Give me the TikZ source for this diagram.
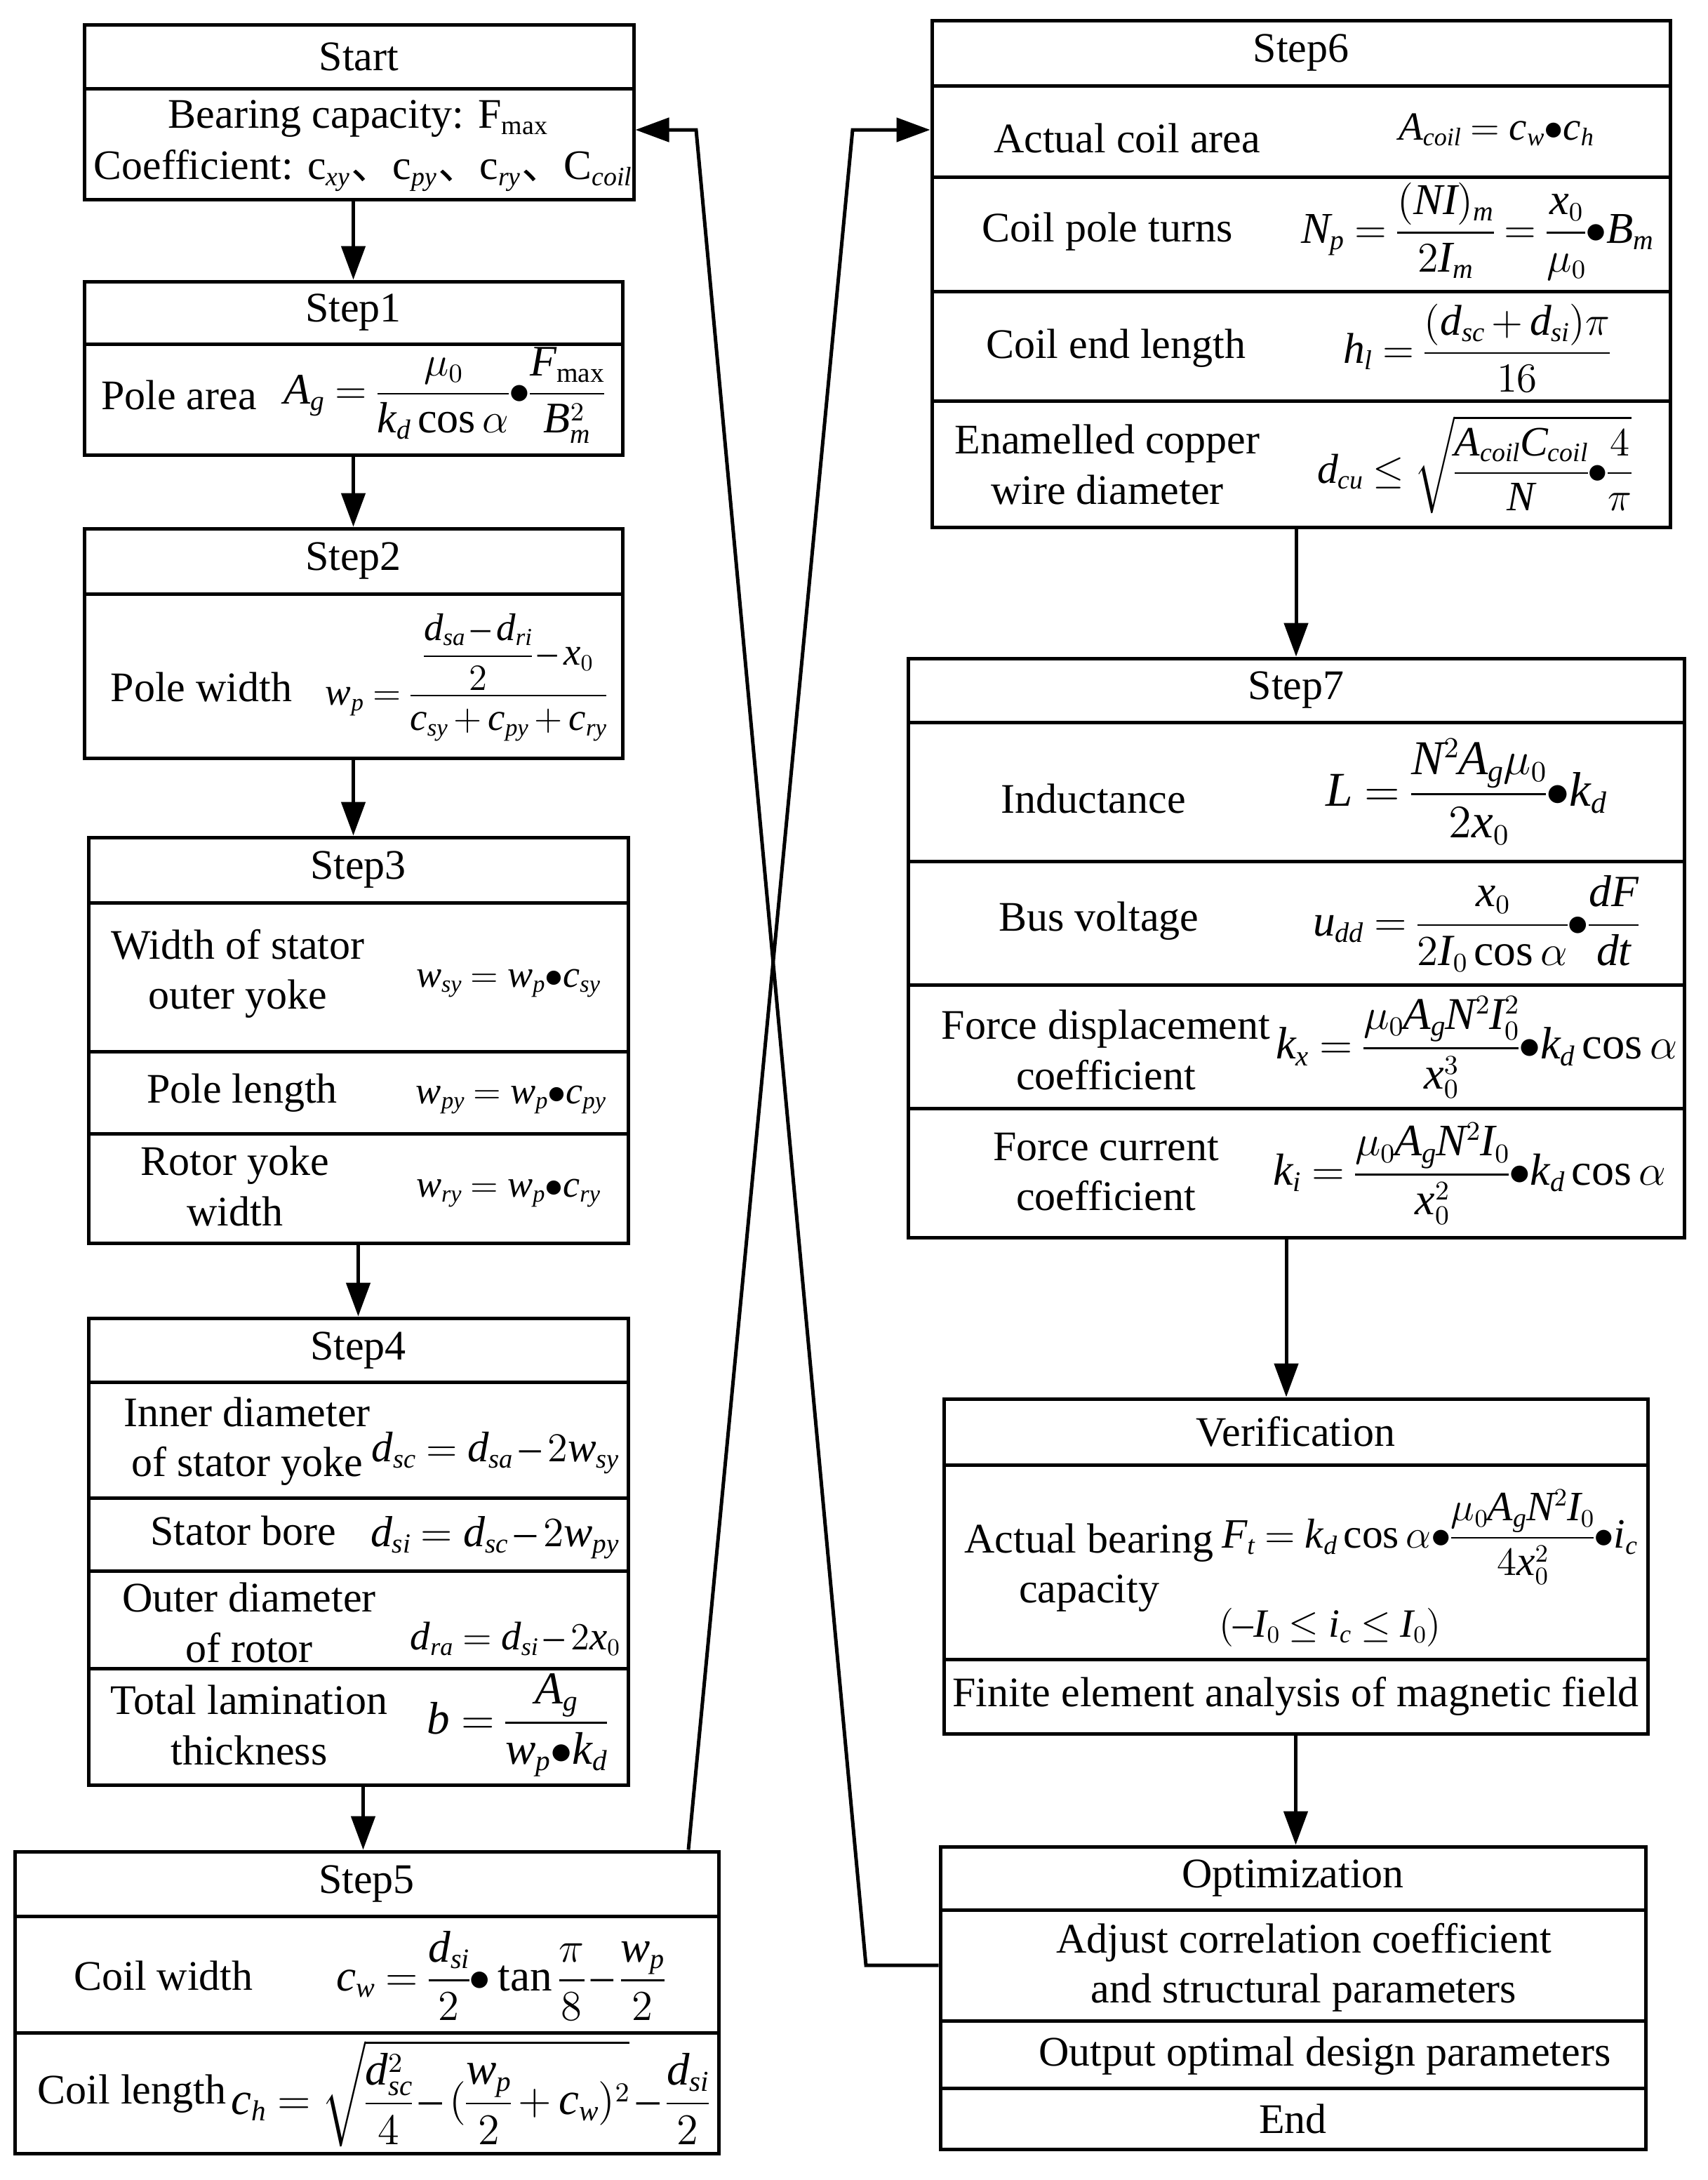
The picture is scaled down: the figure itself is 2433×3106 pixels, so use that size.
\documentclass[tikz,border=0pt]{standalone}
\usepackage{amsmath}
\usepackage{graphicx}
\usepackage{fontspec}
\setmainfont{Liberation Serif}
\usepackage[italic]{mathastext}
\newfontfamily\cjk{Noto Sans CJK SC}
\usetikzlibrary{arrows.meta,calc}
\DeclareMathSizes{15}{15}{9.5}{7.5}
\newcommand\fs{\fontsize{15pt}{17.8pt}\selectfont}
\newcommand\msp{\medmuskip=3mu\relax\thickmuskip=4.5mu\relax\scriptspace=0pt\relax\nulldelimiterspace=0pt\relax}
\newcommand\fw[2]{\resizebox{#1pt}{!}{$\msp\displaystyle #2$}}
\newcommand\cell[6]{\node[cellbox, minimum width={(#4-#2)*0.25pt}, minimum height={(#5-#3)*0.25pt}] (#1) at ({(#2+#4)/2},{(#3+#5)/2}) {#6};}
\tikzset{
  cellbox/.style={draw, line width=1.25pt, inner sep=0pt, font=\fs},
  txt/.style={inner sep=0pt, align=center, font=\fs},
  mth/.style={inner sep=0pt, align=center, font=\fs},
  arr/.style={line width=1.25pt, -{Triangle[length=12pt,width=8.5pt]}}
}
\begin{document}
\begin{tikzpicture}[x=0.25pt,y=-0.25pt]
\useasboundingbox (0,0) rectangle (2433,3106);
% Start
\cell{sth}{120}{35}{903}{126}{Start}
\cell{stb}{120}{126}{903}{284}{}
\node[txt] (st1) at (511,169) {Bearing capacity: F$_{\mathrm{max}}$};
\node[txt] (st2) at (518,243) {\resizebox{192pt}{!}{Coefficient: c$_{xy}${\cjk 、}c$_{py}${\cjk 、}c$_{ry}${\cjk 、}C$_{coil}$}};
% Step1
\cell{s1h}{120}{401}{887}{490}{Step1}
\cell{s1b}{120}{490}{887}{648}{}
\node[txt] (s1l) at (255,563) {Pole area};
\node[mth] (s1f) at (633,563) {\fw{114}{A_g=\frac{\mu_0}{k_d\cos\alpha}{\bullet}\frac{F_{\mathrm{max}}}{B_m^2}}};
% Step2
\cell{s2h}{120}{753}{887}{846}{Step2}
\cell{s2b}{120}{846}{887}{1080}{}
\node[txt] (s2l) at (287,979) {Pole width};
\node[mth] (s2f) at (664,965) {\fw{100}{w_p=\frac{\dfrac{d_{sa}-d_{ri}}{2}-x_0}{c_{sy}+c_{py}+c_{ry}}}};
% Step3
\cell{s3h}{126}{1193}{895}{1286}{Step3}
\cell{s3a}{126}{1286}{895}{1498}{}
\cell{s3b}{126}{1498}{895}{1615}{}
\cell{s3c}{126}{1615}{895}{1771}{}
\node[txt] (s3al) at (339,1387) {Width of stator\\outer yoke};
\node[mth] (s3af) at (724,1401) {\fw{65.5}{w_{sy}=w_p{\bullet}c_{sy}}};
\node[txt] (s3bl) at (345,1557) {Pole length};
\node[mth] (s3bf) at (728,1567) {\fw{67.5}{w_{py}=w_p{\bullet}c_{py}}};
\node[txt] (s3cl) at (335,1690) {Rotor yoke\\width};
\node[mth] (s3cf) at (724,1700) {\fw{65.5}{w_{ry}=w_p{\bullet}c_{ry}}};
% Step4
\cell{s4h}{126}{1878}{895}{1969}{Step4}
\cell{s4a}{126}{1969}{895}{2134}{}
\cell{s4b}{126}{2134}{895}{2238}{}
\cell{s4c}{126}{2238}{895}{2377}{}
\cell{s4d}{126}{2377}{895}{2543}{}
\node[txt] (s4al) at (352,2054) {Inner diameter\\of stator yoke};
\node[mth] (s4af) at (706,2070) {\fw{88}{d_{sc}=d_{sa}-2w_{sy}}};
\node[txt] (s4bl) at (347,2181) {Stator bore};
\node[mth] (s4bf) at (705,2191) {\fw{88.5}{d_{si}=d_{sc}-2w_{py}}};
\node[txt] (s4cl) at (355,2312) {Outer diameter\\of rotor};
\node[mth] (s4cf) at (734,2335) {\fw{74.5}{d_{ra}=d_{si}-2x_0}};
\node[txt] (s4dl) at (355,2458) {Total lamination\\thickness};
\node[mth] (s4df) at (737,2458) {\fw{64}{b=\frac{A_g}{w_p{\bullet}k_d}}};
% Step5
\cell{s5h}{21}{2638}{1024}{2730}{Step5}
\cell{s5a}{21}{2730}{1024}{2896}{}
\cell{s5b}{21}{2896}{1024}{3068}{}
\node[txt] (s5al) at (233,2815) {Coil width};
\node[mth] (s5af) at (713,2815) {\fw{117}{c_w=\frac{d_{si}}{2}{\bullet}\tan\frac{\pi}{8}-\frac{w_p}{2}}};
\node[txt] (s5bl) at (188,2983) {Coil length};
\node[mth] (s5bf) at (670,2983) {\fw{170}{c_h=\sqrt{\frac{d_{sc}^2}{4}-(\frac{w_p}{2}+c_w)^2}-\frac{d_{si}}{2}}};
% Step6
\cell{s6h}{1328}{29}{2380}{122}{Step6}
\cell{s6a}{1328}{122}{2380}{252}{}
\cell{s6b}{1328}{252}{2380}{415}{}
\cell{s6c}{1328}{415}{2380}{571}{}
\cell{s6d}{1328}{571}{2380}{751}{}
\node[txt] (s6al) at (1606,197) {Actual coil area};
\node[mth] (s6af) at (2132,185) {\fw{69.5}{A_{coil}=c_w{\bullet}c_h}};
\node[txt] (s6bl) at (1578,330) {Coil pole turns};
\node[mth] (s6bf) at (2105,330) {\fw{125.5}{N_p=\frac{(NI)_m}{2I_m}=\frac{x_0}{\mu_0}{\bullet}B_m}};
\node[txt] (s6cl) at (1590,496) {Coil end length};
\node[mth] (s6cf) at (2104,496) {\fw{95}{h_l=\frac{(d_{sc}+d_{si})\pi}{16}}};
\node[txt] (s6dl) at (1578,662) {Enamelled copper\\wire diameter};
\node[mth] (s6df) at (2101,662) {\fw{112}{d_{cu}\le\sqrt{\frac{A_{coil}C_{coil}}{N}{\bullet}\frac{4}{\pi}}}};
% Step7
\cell{s7h}{1294}{938}{2400}{1029}{Step7}
\cell{s7a}{1294}{1029}{2400}{1227}{}
\cell{s7b}{1294}{1227}{2400}{1403}{}
\cell{s7c}{1294}{1403}{2400}{1579}{}
\cell{s7d}{1294}{1579}{2400}{1763}{}
\node[txt] (s7al) at (1558,1138) {Inductance};
\node[mth] (s7af) at (2089,1128) {\fw{100}{L=\frac{N^2A_g\mu_0}{2x_0}{\bullet}k_d}};
\node[txt] (s7bl) at (1566,1312) {Bus voltage};
\node[mth] (s7bf) at (2103,1316) {\fw{116}{u_{dd}=\frac{x_0}{2I_0\cos\alpha}{\bullet}\frac{dF}{dt}}};
\node[txt] (s7cl) at (1576,1496) {Force displacement\\coefficient};
\node[mth] (s7cf) at (2104,1492) {\fw{143}{k_x=\frac{\mu_0A_gN^2I_0^2}{x_0^3}{\bullet}k_d\cos\alpha}};
\node[txt] (s7dl) at (1576,1670) {Force current\\coefficient};
\node[mth] (s7df) at (2094,1672) {\fw{140}{k_i=\frac{\mu_0A_gN^2I_0}{x_0^2}{\bullet}k_d\cos\alpha}};
% Verification
\cell{vh}{1345}{1993}{2348}{2087}{Verification}
\cell{va}{1345}{2087}{2348}{2364}{}
\cell{vb}{1345}{2364}{2348}{2470}{Finite element analysis of magnetic field}
\node[txt] (val) at (1552,2234) {Actual bearing\\capacity};
\node[mth] (vaf) at (2037,2190) {\fw{148}{F_t=k_d\cos\alpha{\bullet}\frac{\mu_0A_gN^2I_0}{4x_0^2}{\bullet}i_c}};
\node[mth] (vac) at (1895,2319) {\fw{79}{(-I_0\le i_c\le I_0)}};
% Optimization
\cell{oh}{1340}{2631}{2345}{2721}{Optimization}
\cell{oa}{1340}{2721}{2345}{2879}{}
\cell{ob}{1340}{2879}{2345}{2975}{}
\cell{oc}{1340}{2975}{2345}{3062}{End}
\node[txt] (oal) at (1858,2803) {Adjust correlation coefficient\\and structural parameters};
\node[txt] (obl) at (1888,2929) {Output optimal design parameters};
% vertical arrows
\draw[arr] (stb.south -| s1h.north) -- (s1h.north);
\draw[arr] (s1b.south) -- (s2h.north);
\draw[arr] (s2b.south) -- (s2b.south |- s3h.north);
\draw[arr] (s3c.south) -- (s3c.south |- s4h.north);
\coordinate (k4) at ($(s4d.south)+(7,0)$);
\draw[arr] (k4) -- (k4 |- s5h.north);
\draw[arr] (s6d.south -| s7h.north) -- (s7h.north);
\coordinate (k7) at ($(s7d.south)+(-14,0)$);
\draw[arr] (k7) -- (k7 |- vh.north);
\draw[arr] (vb.south) -- (vb.south |- oh.north);
% loop connectors
\coordinate (kx5) at (981,0);
\coordinate (k6) at (1215,185);
\draw[arr] (s5h.north -| kx5) -- (k6) -- (k6 -| s6a.west);
\coordinate (ko) at (1234,0);
\coordinate (ks) at (992,185);
\draw[arr] (oa.west) -- (oa.west -| ko) -- (ks) -- (ks -| stb.east);
\end{tikzpicture}
\end{document}
